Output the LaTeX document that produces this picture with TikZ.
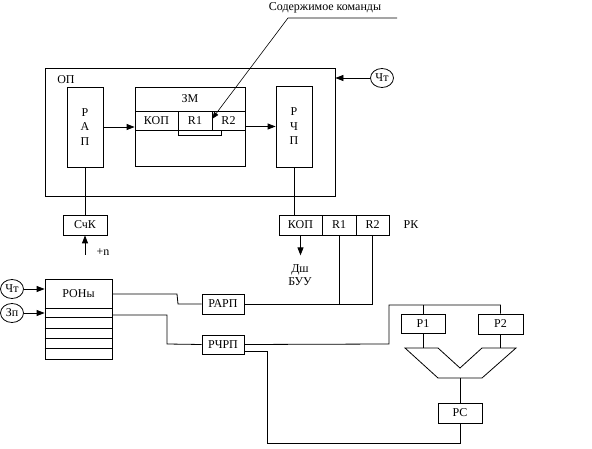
\documentclass[tikz,border=0pt]{standalone}
\usepackage{fontspec}
\setmainfont{Liberation Serif}
\usetikzlibrary{arrows.meta,shapes.geometric}

\begin{document}
\begin{tikzpicture}[x=1pt,y=-1pt,line width=0.8pt,
    >={Triangle[length=8pt,width=6pt]},
    font=\fontsize{12}{14}\selectfont,
    box/.style={draw,inner sep=0pt},
    sig/.style={draw,ellipse,inner sep=0pt,minimum width=23pt,minimum height=19pt}]
    \useasboundingbox (0,0) rectangle (592,449);

    % operative memory
    \node[box,minimum width=290,minimum height=128] (op) at (190,132) {};
    \node (opl) at (66,80) {ОП};
    \node[box,minimum width=36,minimum height=80,align=center,
          font=\fontsize{12}{14.5}\selectfont] (rap) at (85,127) {Р\\А\\П};
    \node[box,minimum width=110,minimum height=79] (zm) at (190,126.5) {};
    \node (zml) at (190,99) {ЗМ};
    \node[box,minimum width=43,minimum height=19] (kop) at (156.5,120.5) {КОП};
    \node[box,minimum width=34,minimum height=19] (r1) at (195,120.5) {R1};
    \node[box,minimum width=33,minimum height=19] (r2) at (228.5,120.5) {R2};
    \draw (178,130) rectangle (221,135);
    \node[box,minimum width=36,minimum height=81,align=center,
          font=\fontsize{12}{14.5}\selectfont] (rchp) at (294,126.5) {Р\\Ч\\П};
    \node[sig] (cht) at (382,78) {Чт};

    \draw[->] (rap.east) -- (rap.east -| zm.west);
    \draw[->] (rchp.west -| zm.east) -- (rchp.west);
    \draw[->] (cht.west) -- (cht.west -| op.east);

    % comment
    \node (txt) at (325,8) {Содержимое команды};
    \coordinate (tipc) at (212,119);
    \draw[->,>={Triangle[length=7pt,width=5pt]},line width=0.6pt]
        (397,18) -- (288,18) -- (tipc);

    % counter and command register
    \node[box,minimum width=44,minimum height=20] (sck) at (85,225) {СчК};
    \draw (rap.south) -- (sck.north);
    \coordinate (inc) at (85,255);
    \draw[->] (inc) -- (sck.south);
    \node (incl) at (103,252) {+n};

    \node[box,minimum width=43,minimum height=20] (kop2) at (300.5,225) {КОП};
    \node[box,minimum width=34,minimum height=20] (r1b) at (339,225) {R1};
    \node[box,minimum width=33,minimum height=20] (r2b) at (372.5,225) {R2};
    \node (rk) at (411,225) {РК};
    \draw (rchp.south) -- (rchp.south |- kop2.north);
    \draw[->] (kop2.south) -- ++(0,20);
    \node[align=center,font=\fontsize{12}{13}\selectfont] (dsh) at (300,275) {Дш\\БУУ};

    % general registers
    \node[sig] (cht2) at (12,289) {Чт};
    \node[sig] (zp) at (12,313) {Зп};
    \node[box,minimum width=67,minimum height=80] (ron) at (78.5,319) {};
    \node (ronl) at (78.5,294) {РОНы};
    \foreach \y in {308,317,328,338,348}
        \draw (ron.west |- 0,\y) -- (ron.east |- 0,\y);
    \draw[->] (cht2.east) -- (cht2.east -| ron.west);
    \draw[->] (zp.east) -- (zp.east -| ron.west);

    \node[box,minimum width=42,minimum height=20] (rarp) at (223,304) {РАРП};
    \node[box,minimum width=42,minimum height=19] (rchrp) at (223,344.5) {РЧРП};
    \draw (ron.east |- 0,294) -- (177,294) -- (178,304) -- (rarp.west);
    \draw (ron.east |- 0,315) -- (167,315) -- (167,344) -- (rarp.west |- rchrp.west);
    \draw (rarp.east) -- (r2b.south |- rarp.east) -- (r2b.south);
    \draw (r1b.south) -- (r1b.south |- rarp.east);

    % arithmetic unit
    \node[box,minimum width=44,minimum height=19] (p1) at (423,323.5) {Р1};
    \node[box,minimum width=45,minimum height=20] (p2) at (500.5,324) {Р2};
    \draw (rchrp.east) -- (389,344) -- (389,305) -| (p2.north);
    \draw (p1.north) -- (p1.north |- 0,305);
    \draw (405,348) -- (438,348) -- (460,368) -- (482,348) -- (516,348)
          -- (482,378) -- (438,378) -- cycle;
    \draw (p1.south) -- (p1.south |- 0,348);
    \draw (p2.south) -- (p2.south |- 0,348);
    \coordinate (alu) at (460,378);
    \node[box,minimum width=44,minimum height=20] (pc) at (460,413) {РС};
    \draw (alu) -- (pc.north);
    \draw (pc.south) -- (460,443) -- (267,443) -- (267,351) -- (rchrp.east |- 0,351);
\end{tikzpicture}
\end{document}
